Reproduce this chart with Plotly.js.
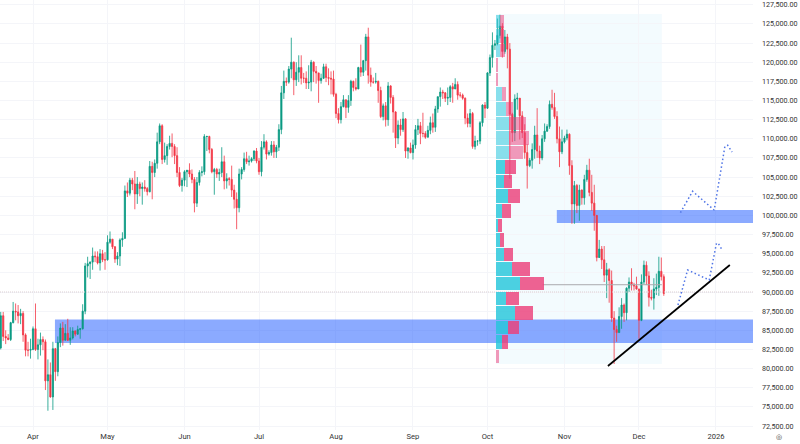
<!DOCTYPE html>
<html><head><meta charset="utf-8">
<script src="https://cdn.plot.ly/plotly-3.0.1.min.js"></script>
<style>html,body{margin:0;padding:0;background:#fff}#c{width:800px;height:444px}</style></head>
<body><div id="c"></div>
<script>
const firstDay = '2025-03-19';
const opens = [82700,86900,84200,84000,83800,86000,87500,87400,86900,87200,84400,82400,82400,82500,85200,82500,83100,83800,83500,78400,79200,76300,82600,79600,83400,85300,83700,84600,83700,84000,84900,84500,85100,85200,87500,93400,93700,93900,94700,94600,93800,95000,94200,94200,96500,96900,95900,94300,94700,96800,97000,103200,102900,104600,104100,102800,104100,103500,103700,103500,103100,106400,105600,106800,109600,111700,107300,107800,109000,109400,109000,107800,105600,103900,104600,105700,105900,105400,104700,101600,104300,105600,105700,110300,110300,108600,105700,106000,105400,105600,107000,104500,104800,104700,103300,102100,101000,105400,106000,107400,107000,107100,107400,108400,107100,105700,108900,109600,108000,108200,109200,108300,108900,111200,116000,117500,117400,119100,120000,117700,118700,119300,117900,117900,117300,117400,120000,118800,118600,117600,117900,119400,118000,117900,117800,115800,113300,112500,114200,115100,114100,115000,117500,116700,116500,119300,118700,120200,123300,118300,117400,117400,117500,116300,112900,114300,112500,116900,115400,113500,110100,111800,111200,112600,108400,108800,108200,109200,111200,111700,110700,110700,110200,111100,112100,111500,113900,115500,116100,116000,115300,115400,116800,116500,117100,115700,115700,115300,112700,112000,113300,109000,109700,109700,112100,114400,114000,118600,120600,122200,122400,123500,124700,121400,123300,121700,113200,110800,115200,115300,113000,110800,108200,106500,107200,108600,110500,108400,107500,110000,111000,111600,114500,114100,112900,110000,108300,109600,110100,110600,106500,101500,103900,101300,103300,102300,104700,105900,103000,101600,100000,94500,95600,94200,92200,92900,91500,86600,85100,84700,86800,88300,87300,90500,91300,90900,90800,90400,86300,91300,93500,92100,89300,89200,90400,90600,92700,92000];
const highs = [87400,87400,85000,84500,86100,88700,88500,88300,87800,87500,84600,83500,83900,85500,88500,83900,84700,84200,83800,81200,80800,83500,82700,84200,85900,86100,85800,86500,85400,85400,85000,85600,85300,88400,93800,94600,94000,95800,95300,95300,95600,95500,95200,97400,97900,96900,96000,95200,97000,97800,103900,104300,104900,104900,105800,105000,104400,104300,104600,103700,107100,107000,107300,110800,112000,111900,109500,109300,110400,110700,109300,108900,106300,104900,105900,105900,106800,106000,105000,105000,105900,106400,110600,110400,110400,108800,106200,106200,106100,108900,107800,105500,105000,106500,104000,103000,106100,106300,108200,108300,107800,107600,108500,108800,107500,109700,110600,109800,108500,109700,109700,109200,111900,116900,118900,118000,119500,123200,120100,120000,120900,120900,118600,118800,119600,120300,120100,119500,118600,118500,119800,119800,119200,118800,118900,116000,114000,114800,115700,115100,115700,117700,117600,117900,119400,122300,120300,123700,124500,119300,118000,118600,117600,116800,114600,114800,117400,117000,115700,113600,112400,112600,113500,112700,108900,109500,109900,111800,112600,112200,113400,111000,111700,112900,113300,114300,115500,116700,116400,116100,116700,117000,117300,117900,117500,116100,115900,115400,113300,113900,113500,110400,109800,112300,114500,114800,118700,121000,123900,122900,125700,126200,125100,124200,123700,122500,113400,115800,116000,115100,113600,111900,109300,107500,109400,111700,114000,109100,110500,112000,111900,115000,116400,116000,113600,111600,111200,110400,111200,110700,107200,104500,104100,104000,103400,105300,106600,107400,105300,104000,99900,96800,96000,96000,93800,93100,92800,87500,85600,88000,89200,88500,90600,91900,93100,91200,92000,90400,92300,94100,94000,92700,90300,91800,92400,94600,94500,92300];
const lows = [82500,83600,83200,83700,83600,85900,86300,85900,85800,83500,81600,81600,81300,82400,82300,81200,81700,82400,77200,74500,76200,74600,78400,79000,82800,83000,83700,83600,83100,83800,84200,84400,83900,85100,87100,91900,91700,92900,93900,93600,92800,93900,92900,94100,96300,95600,93800,93500,93400,95900,97000,102400,102600,103300,100800,101500,102500,101400,103100,102600,103000,102100,105000,106100,109300,106700,106900,106600,108600,107600,106700,105000,103700,103100,103800,103700,105000,104200,100400,101100,103900,105100,105300,108400,108100,105500,102700,104900,104500,105000,103400,103500,103900,102400,100900,98200,100400,104700,105700,106700,106500,106900,107100,106800,105300,105100,108600,107300,107800,107800,107500,107500,108400,110600,115200,116900,117200,117900,115700,116900,117400,117100,117300,116500,116500,116200,117400,117200,114700,117200,117800,117400,117000,115800,115500,112700,112000,112000,114100,112700,113400,114300,116200,116300,116500,118100,118200,118900,117200,116800,117200,117200,114700,112700,112400,111600,111700,114600,110800,108800,109300,110400,110900,107500,107400,108100,107300,108700,110500,109300,110200,110000,110200,110600,110800,110900,113400,114200,115200,114800,114400,114800,114700,116500,115100,115400,115100,111900,111500,111500,108700,108600,109100,109300,111600,112700,113900,118200,119300,121600,122200,123100,120600,121100,119200,104800,109600,109700,113800,109900,110100,107400,103500,106300,106100,107400,107500,106700,107200,109600,110900,111300,113800,112600,109400,106300,108000,109400,109800,105300,98900,98900,100300,99300,101400,101400,104400,102500,100600,98000,94000,94600,93000,91300,89200,88600,86100,80600,83500,84700,85200,86100,86300,90000,90200,90200,90300,83900,86200,91000,90900,88100,88900,87700,89600,89500,91500,89500];
const closes = [86900,84200,84000,83800,86000,87500,87400,86900,87200,84400,82400,82400,82500,85200,82500,83100,83800,83500,78400,79200,76300,82600,79600,83400,85300,83700,84600,83700,84000,84900,84500,85100,85200,87500,93400,93700,93900,94700,94600,93800,95000,94200,94200,96500,96900,95900,94300,94700,96800,97000,103200,102900,104600,104100,102800,104100,103500,103700,103500,103100,106400,105600,106800,109600,111700,107300,107800,109000,109400,109000,107800,105600,103900,104600,105700,105900,105400,104700,101600,104300,105600,105700,110300,110300,108600,105700,106000,105400,105600,107000,104500,104800,104700,103300,102100,101000,105400,106000,107400,107000,107100,107400,108400,107100,105700,108900,109600,108000,108200,109200,108300,108900,111200,116000,117500,117400,119100,120000,117700,118700,119300,117900,117900,117300,117400,120000,118800,118600,117600,117900,119400,118000,117900,117800,115800,113300,112500,114200,115100,114100,115000,117500,116700,116500,119300,118700,120200,123300,118300,117400,117400,117500,116300,112900,114300,112500,116900,115400,113500,110100,111800,111200,112600,108400,108800,108200,109200,111200,111700,110700,110700,110200,111100,112100,111500,113900,115500,116100,116000,115300,115400,116800,116500,117100,115700,115700,115300,112700,112000,113300,109000,109700,109700,112100,114400,114000,118600,120600,122200,122400,123500,124700,121400,123300,121700,113200,110800,115200,115300,113000,110800,108200,106500,107200,108600,110500,108400,107500,110000,111000,111600,114500,114100,112900,110000,108300,109600,110100,110600,106500,101500,103900,101300,103300,102300,104700,105900,103000,101600,100000,94500,95600,94200,92200,92900,91500,86600,85100,84700,86800,88300,87300,90500,91300,90900,90800,90400,86300,91300,93500,92100,89300,89200,90400,90600,92700,92000,89800];

const profilePrices = [125340,123437,121534,119631,117728,115825,113922,112019,110116,108213,106310,104407,102504,100601,98698,96795,94892,92989,91086,89183,87280,85377,83474,81571];
const profileUp =   [4,4,4,0,0,6,10,13,13,13,9,8,11.7,5.7,2,4,8,16,24,10,19,12,6,0];
const profileDown = [3.5,4,5,1.7,2,4,7,17,20,14,11,8,12.3,9,4,4,9,18,24,13,18,11,6,3];
const profileInValueArea = [0,0,0,0,0,0,0,0,0,0,1,1,1,1,1,1,1,1,1,1,1,1,1,0];

const trendX = ['2025-11-18 12:00','2026-01-06 14:00'];
const trendY = [80340,93525];
const upperPathX = ['2025-12-17 17:00','2025-12-22 14:00','2025-12-31 07:00','2026-01-04 14:00','2026-01-05 17:00','2026-01-07 12:00'];
const upperPathY = [100350,103150,100700,108970,109150,108280];
const lowerPathX = ['2025-12-16 17:00','2025-12-20 14:00','2025-12-29 07:00','2026-01-01 05:00','2026-01-01 22:00','2026-01-03 12:00'];
const lowerPathY = [88300,92870,91570,96360,96360,95480];
const priceLineX = ['2025-03-18 17:00','2026-01-15 22:00'];
const priceLineY = [90000,90000];
const pocX = ['2025-10-23 06:00','2025-12-10 05:00'];
const pocY = [90950,90950];
const zoneLow = {x0:'2025-04-09 20:00',x1:'2026-01-15 22:00',y0:83350,y1:86400};
const zoneHigh = {x0:'2025-10-28 22:00',x1:'2026-01-15 22:00',y0:99000,y1:100700};
const rangeBox = {x0:'2025-10-04 10:00',x1:'2025-12-10 05:00',y0:80600,y1:126290};
const monthTicks = ['2025-04-01','2025-05-01','2025-06-01','2025-07-01','2025-08-01','2025-09-01','2025-10-01','2025-11-01','2025-12-01','2026-01-01'];
const monthLabels = ['Apr','May','Jun','Jul','Aug','Sep','Oct','Nov','Dec','2026'];
const priceTicks = [72500,75000,77500,80000,82500,85000,87500,90000,92500,95000,97500,100000,102500,105000,107500,110000,112500,115000,117500,120000,122500,125000,127500];

const start = new Date(firstDay+'T00:00:00Z').getTime();
const dates = closes.map((_,i)=>new Date(start+i*864e5).toISOString().slice(0,10));
const UP='#089981', DOWN='#F23645';
const FONT='Roboto, Arial, sans-serif';

const traces = [
 {type:'scatter',mode:'lines',x:priceLineX,y:priceLineY,line:{color:'#dccfd3',width:1,dash:'1px,1px'},hoverinfo:'skip'},
 {type:'candlestick',x:dates,open:opens,high:highs,low:lows,close:closes,
  increasing:{line:{color:UP,width:0.8},fillcolor:UP},
  decreasing:{line:{color:DOWN,width:0.8},fillcolor:DOWN},whiskerwidth:0},
 {type:'scatter',mode:'lines',x:pocX,y:pocY,line:{color:'#a9a9ad',width:1},hoverinfo:'skip'},
 {type:'bar',orientation:'h',xaxis:'x2',yaxis:'y',y:profilePrices,x:profileUp,width:1760,
  marker:{color:profileInValueArea.map(f=>f?'rgba(38,198,218,0.82)':'rgba(38,198,218,0.52)'),line:{width:0}}},
 {type:'bar',orientation:'h',xaxis:'x2',yaxis:'y',y:profilePrices,x:profileDown,width:1760,
  marker:{color:profileInValueArea.map(f=>f?'rgba(236,64,122,0.82)':'rgba(236,64,122,0.52)'),line:{width:0}}},
 {type:'scatter',mode:'lines',x:trendX,y:trendY,line:{color:'#000000',width:1.7},hoverinfo:'skip'},
 {type:'scatter',mode:'lines',x:upperPathX,y:upperPathY,line:{color:'#4f74e6',width:1.5,dash:'1.5px,2.5px'},hoverinfo:'skip'},
 {type:'scatter',mode:'lines',x:lowerPathX,y:lowerPathY,line:{color:'#4f74e6',width:1.5,dash:'1.5px,2.5px'},hoverinfo:'skip'}
];
const rect=(z,fill,layer)=>({type:'rect',xref:'x',yref:'y',x0:z.x0,x1:z.x1,y0:z.y0,y1:z.y1,fillcolor:fill,line:{width:0},layer});
const layout = {
 width:800,height:444,margin:{l:0,r:47,t:0,b:14,pad:0},
 paper_bgcolor:'#fff',plot_bgcolor:'#fff',showlegend:false,barmode:'stack',bargap:0,
 font:{family:FONT,size:8,color:'#333'},
 xaxis:{type:'date',range:['2025-03-18 17:00','2026-01-15 22:00'],tickmode:'array',tickvals:monthTicks,ticktext:monthLabels,
  showgrid:true,gridcolor:'#f4f5f9',gridwidth:1,zeroline:false,showline:false,ticks:'',rangeslider:{visible:false},
  tickfont:{family:FONT,size:7.6,color:'#333'},tickangle:0},
 xaxis2:{overlaying:'x',anchor:'y',range:[-496,257],visible:false,fixedrange:true},
 yaxis:{side:'right',range:[71984,128120],tickmode:'array',tickvals:priceTicks,tickformat:',.2f',
  showgrid:true,gridcolor:'#f4f5f9',gridwidth:1,zeroline:false,showline:false,ticks:'outside',ticklen:6.5,tickcolor:'rgba(0,0,0,0)',
  tickfont:{family:FONT,size:7.2,color:'#333'}},
 shapes:[rect(rangeBox,'#f3fbfe','below'),rect(zoneLow,'rgba(41,98,255,0.54)','between'),rect(zoneHigh,'rgba(41,98,255,0.54)','between')],
 annotations:[{xref:'paper',yref:'paper',x:1.0345,y:-0.016,xanchor:'center',yanchor:'middle',borderpad:0,text:'◎',showarrow:false,font:{family:'DejaVu Sans',size:7,color:'#333'}}]
};
Plotly.newPlot('c',traces,layout,{displayModeBar:false,staticPlot:true});
</script></body></html>
